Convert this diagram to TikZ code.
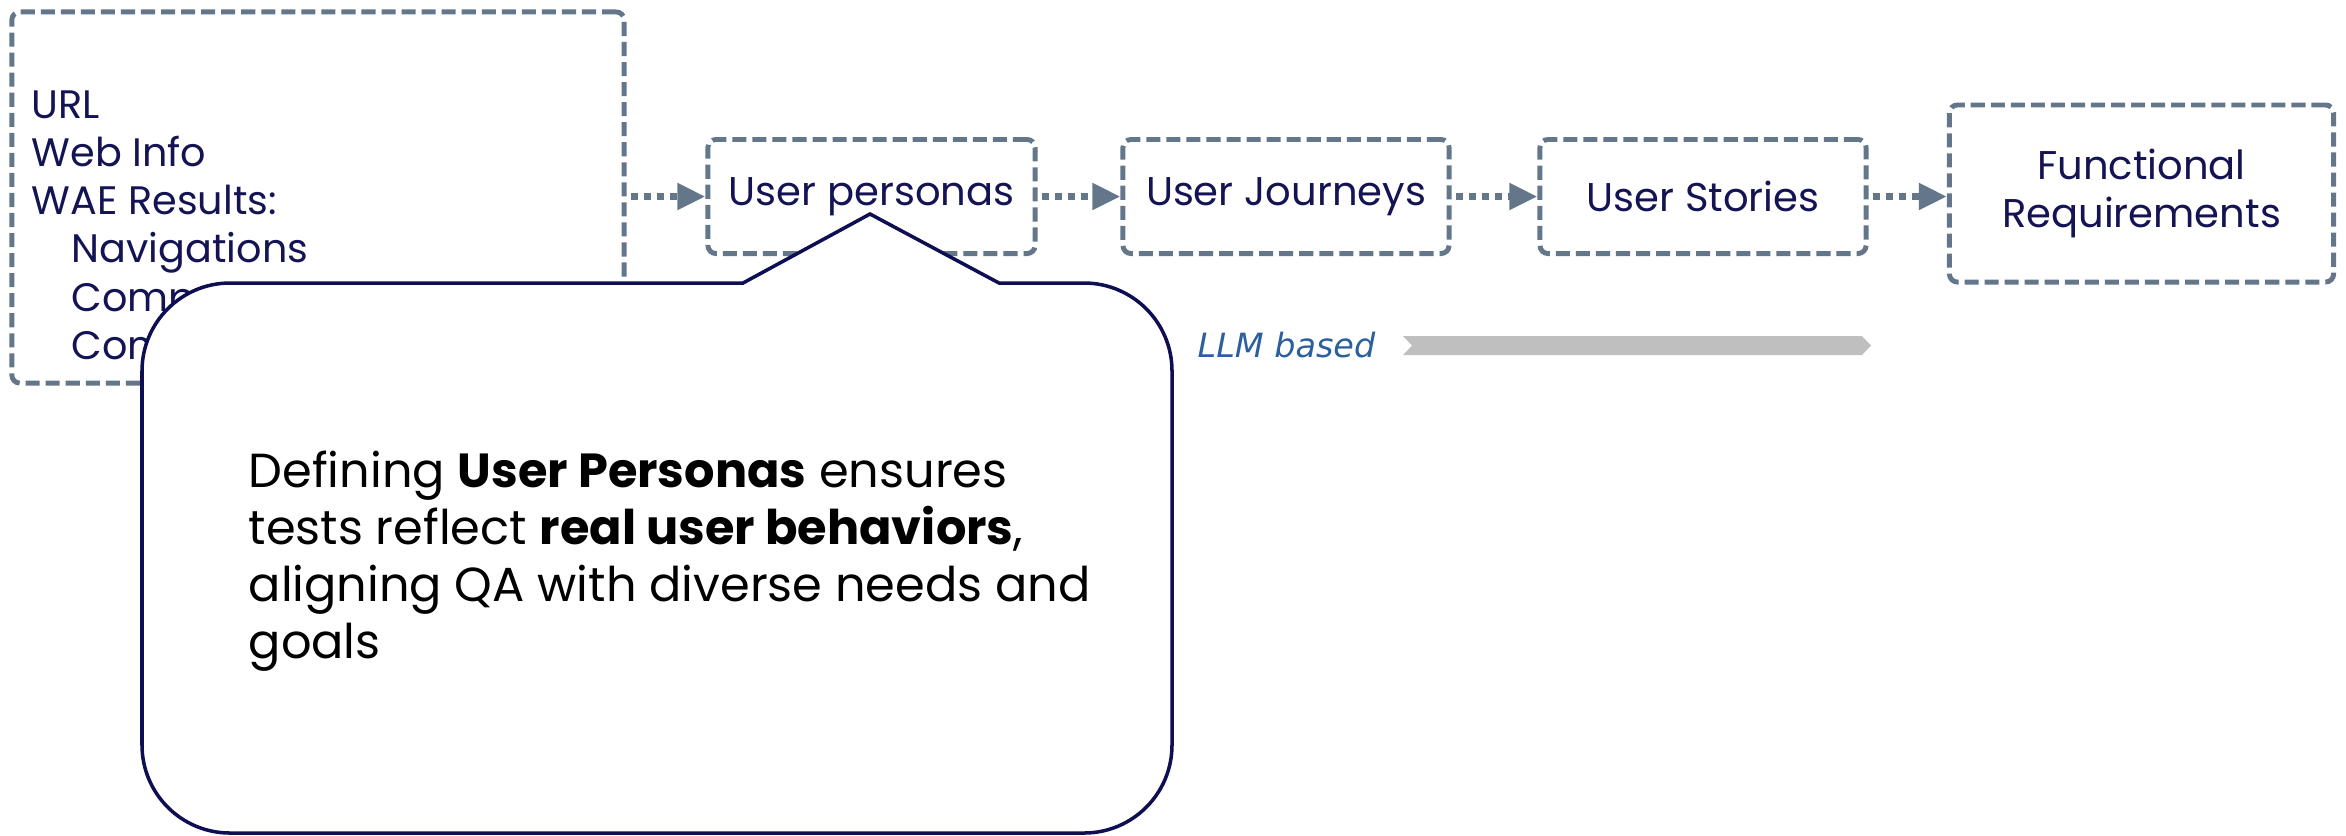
\documentclass[tikz,border=0pt]{standalone}
\usepackage{fontspec}
\setmainfont{Poppins}
\newfontfamily\llmfont{DejaVu Sans}
\usetikzlibrary{arrows.meta}
\definecolor{boxgrey}{RGB}{100,119,138}
\definecolor{navytext}{RGB}{20,20,85}
\definecolor{callline}{RGB}{14,14,82}
\definecolor{llmblue}{RGB}{44,95,158}
\definecolor{bargrey}{RGB}{191,191,191}
\tikzset{
  stagebox/.style={draw=boxgrey, line width=1.4pt, dash pattern=on 4pt off 1.7pt,
    rounded corners=2.3pt, align=center, text=navytext, inner sep=0pt,
    font=\fontsize{11.4}{13.7}\selectfont},
  flow/.style={draw=boxgrey, line width=2.2pt, dash pattern=on 2pt off 1.7pt,
    -{Triangle[length=8pt,width=7.2pt]}, shorten <=1.2pt},
  calloutshape/.style={draw=callline, line width=1pt, fill=white},
}
\begin{document}
\begin{tikzpicture}[x=0.01cm,y=-0.01cm]
\useasboundingbox (0,0) rectangle (2346,835);

% input box
\node[stagebox, minimum width=6.12cm, minimum height=3.71cm] (input) at (318,197.5) {};
\node[anchor=north west, align=left, text=navytext, inner sep=0pt,
  font=\fontsize{11.3}{13.7}\selectfont] (inputtext) at (31,90)
  {URL\\Web Info\\WAE Results:\\\hspace*{11.4pt}Navigations\\\hspace*{11.4pt}Comp\\\hspace*{11.4pt}Com};

% stage boxes
\node[stagebox, minimum width=3.27cm, minimum height=1.14cm] (personas) at (871.5,196.5) {User personas};
\node[stagebox, minimum width=3.26cm, minimum height=1.14cm] (journeys) at (1286,196.5) {User Journeys};
\node[stagebox, minimum width=3.26cm, minimum height=1.14cm] (stories) at (1703,196.5) {User Stories};
\node[stagebox, minimum width=3.84cm, minimum height=1.77cm] (funcreq) at (2141.5,193.5) {Functional\\Requirements};

% connectors
\draw[flow] (input.east |- personas.west) -- (personas.west);
\draw[flow] (personas.east) -- (journeys.west);
\draw[flow] (journeys.east) -- (stories.west);
\draw[flow] (stories.east) -- (funcreq.west |- stories.east);

% LLM based label and bar
\node[anchor=base west, inner sep=0pt, text=llmblue, font=\llmfont\itshape\fontsize{9.5}{11}\selectfont] (llm) at (1197,357) {LLM based};
\fill[bargrey] (1403,336) -- (1862,336) -- (1871,345.5) -- (1862,355) -- (1403,355) -- (1412,345.5) -- cycle;

% callout
\draw[calloutshape] (743,283) -- (870,214) -- (999,283) -- (1084,283)
  .. controls (1132.6,283) and (1172,322.4) .. (1172,371)
  -- (1172,745)
  .. controls (1172,793.6) and (1132.6,833) .. (1084,833)
  -- (230,833)
  .. controls (181.4,833) and (142,793.6) .. (142,745)
  -- (142,371)
  .. controls (142,322.4) and (181.4,283) .. (230,283)
  -- cycle;
\node[anchor=north west, align=left, inner sep=0pt, text=black,
  font=\fontsize{13.6}{16.2}\selectfont] (callouttext) at (248,450)
  {Defining \textbf{User Personas} ensures\\tests reflect \textbf{real user behaviors},\\aligning QA with diverse needs and\\goals};
\end{tikzpicture}
\end{document}
